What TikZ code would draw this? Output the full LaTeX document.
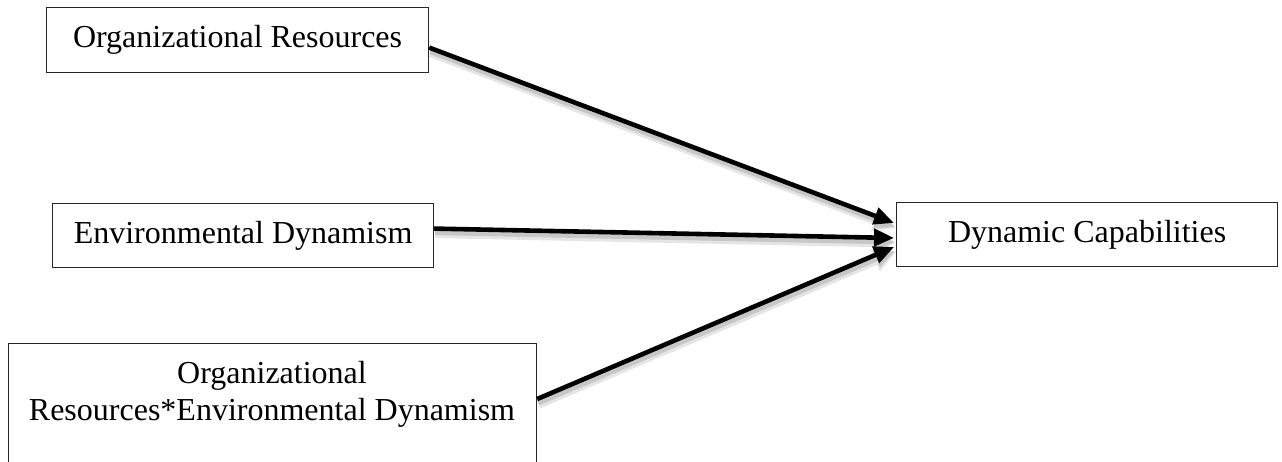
\documentclass[tikz,border=0pt]{standalone}
\usepackage{fontspec}
\setmainfont{Liberation Serif}
\usetikzlibrary{arrows.meta,calc}
\begin{document}
\begin{tikzpicture}[x=1pt,y=-1pt,
  box/.style={draw=black!85,line width=1.2pt,inner sep=0pt,minimum height=64pt,
    font=\fontsize{32}{37}\selectfont},
  lbl/.style={inner sep=0pt,align=center,font=\fontsize{32}{37}\selectfont},
  conn/.style={draw=black,line width=4.6pt,-{Triangle[length=20pt,width=17pt]}},
  connshade/.style={draw=black!10,line width=9pt,-{Triangle[length=22pt,width=22pt]}},
  connshadeb/.style={draw=black!22,line width=5pt,-{Triangle[length=20pt,width=17pt]}}]
\clip (0,0) rectangle (1282,462);
\fill[white] (0,0) rectangle (1282,462);
\node[box,minimum width=382pt,minimum height=65pt,anchor=north west] (a) at (46,7) {Organizational Resources};
\node[box,minimum width=381pt,anchor=north west] (b) at (52,203) {Environmental Dynamism};
\node[box,minimum width=528pt,minimum height=150pt,anchor=north west] (c) at (8,343) {};
\node[lbl] (ct) at (272,394) {Organizational\\Resources*Environmental Dynamism};
\node[box,minimum width=381pt,anchor=north west] (d) at (896,202) {Dynamic Capabilities};
\coordinate (s1) at ($(a.east)+(0,7.5)$);
\coordinate (s2) at ($(b.east)+(0,-7)$);
\coordinate (s3) at ($(c.north east)+(0,56)$);
\coordinate (t1) at ($(d.north west)+(-2,21)$);
\coordinate (t2) at ($(d.north west)+(-2,36)$);
\coordinate (t3) at ($(d.north west)+(-2,45)$);
\foreach \s/\t in {s1/t1,s2/t2,s3/t3}{
  \draw[connshade] ($(\s)+(1.5,5)$) -- ($(\t)+(1.5,5)$);
  \draw[connshadeb] ($(\s)+(1,4)$) -- ($(\t)+(1,4)$);
}
\foreach \s/\t in {s1/t1,s2/t2,s3/t3}{
  \draw[conn] (\s) -- (\t);
}
\end{tikzpicture}
\end{document}
